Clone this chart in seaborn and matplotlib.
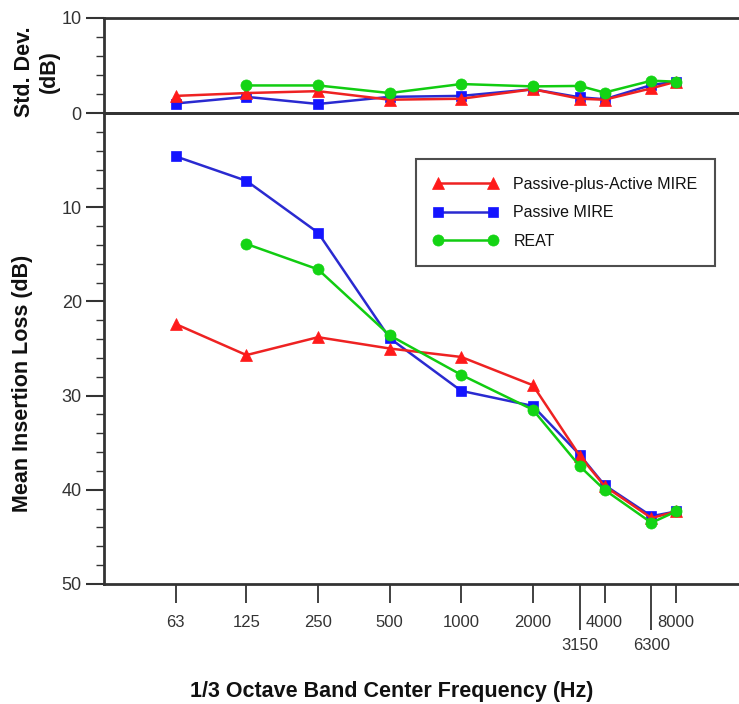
import numpy as np
import pandas as pd
import matplotlib
matplotlib.use("Agg")
import matplotlib.pyplot as plt
import seaborn as sns
from matplotlib.ticker import FixedLocator, FixedFormatter, MultipleLocator, NullLocator

# ---------------- data ----------------
freqs = [63, 125, 250, 500, 1000, 2000, 3150, 4000, 6300, 8000]
major_freqs = [63, 125, 250, 500, 1000, 2000, 4000, 8000]
minor_freqs = [3150, 6300]
series_names = ["Passive-plus-Active MIRE", "Passive MIRE", "REAT"]

pa_mean = [22.4, 25.7, 23.8, 25.0, 25.9, 28.9, 36.4, 39.6, 43.0, 42.3]
p_mean = [4.6, 7.2, 12.7, 23.9, 29.5, 31.1, 36.3, 39.5, 42.8, 42.3]
reat_mean = [np.nan, 13.9, 16.6, 23.6, 27.8, 31.5, 37.5, 40.0, 43.5, 42.3]

pa_sd = [1.8, 2.1, 2.3, 1.4, 1.5, 2.5, 1.5, 1.4, 2.6, 3.3]
p_sd = [1.0, 1.7, 0.95, 1.7, 1.8, 2.5, 1.65, 1.45, 2.95, 3.3]
reat_sd = [np.nan, 2.9, 2.9, 2.1, 3.05, 2.8, 2.85, 2.15, 3.4, 3.3]

rows = []
for name, m, s in zip(series_names, [pa_mean, p_mean, reat_mean], [pa_sd, p_sd, reat_sd]):
    for f, mv, sv in zip(freqs, m, s):
        rows.append({"series": name, "freq": f, "mean": mv, "sd": sv})
df = pd.DataFrame(rows).dropna()

# ---------------- style ----------------
sns.set_style("ticks")
plt.rcParams["font.family"] = ["Liberation Sans", "DejaVu Sans"]
plt.rcParams["axes.edgecolor"] = "#333333"
plt.rcParams["xtick.color"] = "#333333"
plt.rcParams["ytick.color"] = "#333333"
plt.rcParams["text.color"] = "#111111"

styles = {
    "Passive-plus-Active MIRE": dict(color="#ff1a1a", marker="^", ms=8, z=3, lc="#ee2222"),
    "Passive MIRE": dict(color="#1414ff", marker="s", ms=7, z=2, lc="#2a2ad0"),
    "REAT": dict(color="#14d414", marker="o", ms=8, z=4, lc="#11cc11"),
}

W, H = 739, 704
fig = plt.figure(figsize=(W / 100, H / 100), dpi=100)
left = 104 / W
ax_top = fig.add_axes([left, 1 - 113 / H, 1 - left, (113 - 18) / H])
ax = fig.add_axes([left, 1 - 584 / H, 1 - left, (584 - 113) / H])
ax.set_facecolor("none")

for name in series_names:
    st = styles[name]
    sub = df[df.series == name]
    for a, col in ((ax_top, "sd"), (ax, "mean")):
        sns.lineplot(data=sub, x="freq", y=col, ax=a, color=st["lc"], marker=st["marker"],
                     markersize=st["ms"], markerfacecolor=st["color"], markeredgecolor=st["color"],
                     markeredgewidth=0.5, linewidth=1.8, zorder=st["z"],
                     label=name if a is ax else None, legend=False, clip_on=False)

xlim = (31.5, 14700)
for a in (ax_top, ax):
    a.set_xscale("log")
    a.set_xlim(*xlim)
    a.spines["right"].set_visible(False)
    for sp in a.spines.values():
        sp.set_linewidth(2.0)
    a.set_xlabel("")
    a.set_ylabel("")

# top panel
ax_top.set_ylim(0, 10)
ax_top.yaxis.set_major_locator(FixedLocator([0, 10]))
ax_top.yaxis.set_minor_locator(MultipleLocator(2))
ax_top.xaxis.set_major_locator(NullLocator())
ax_top.xaxis.set_minor_locator(NullLocator())
ax_top.tick_params(axis="x", bottom=False, labelbottom=False)
ax_top.tick_params(axis="y", which="major", length=13, width=1.5, labelsize=13, pad=3)
ax_top.tick_params(axis="y", which="minor", length=6, width=1.0)

# bottom panel
ax.set_ylim(50, 0)
ax.yaxis.set_major_locator(FixedLocator([10, 20, 30, 40, 50]))
ax.yaxis.set_minor_locator(FixedLocator([2, 4, 6, 8, 12, 14, 16, 18, 22, 24, 26, 28,
                                         32, 34, 36, 38, 42, 44, 46, 48]))
ax.tick_params(axis="y", which="major", length=13, width=1.5, labelsize=13, pad=3)
ax.tick_params(axis="y", which="minor", length=6, width=1.0)

ax.xaxis.set_major_locator(FixedLocator(major_freqs))
ax.xaxis.set_major_formatter(FixedFormatter([str(f) for f in major_freqs]))
ax.xaxis.set_minor_locator(FixedLocator(minor_freqs))
ax.xaxis.set_minor_formatter(FixedFormatter([str(f) for f in minor_freqs]))
ax.tick_params(axis="x", which="major", length=13.5, width=1.3, labelsize=12, pad=9)
ax.tick_params(axis="x", which="minor", length=33, width=1.3, labelsize=12, pad=6)

# labels
fig.text(37 / W, 1 - 72 / H, "Std. Dev.\n(dB)", rotation=90, ha="center", va="center",
         fontsize=15.5, fontweight="bold", linespacing=1.25, multialignment="center")
fig.text(23 / W, 1 - 383 / H, "Mean Insertion Loss (dB)", rotation=90, ha="center", va="center",
         fontsize=15.5, fontweight="bold")
fig.text(392 / W, 1 - 692 / H, "1/3 Octave Band Center Frequency (Hz)", ha="center", va="center",
         fontsize=15.5, fontweight="bold")

# legend
handles, labels = ax.get_legend_handles_labels()
leg = ax.legend(handles, labels, loc="upper left", numpoints=2,
                bbox_to_anchor=((416 - 104) / 635, 1 - (159 - 113) / 471),
                frameon=True, fancybox=False, edgecolor="#222222", fontsize=11.5,
                handlelength=4.0, handletextpad=1.0, labelspacing=0.85, borderpad=1.1,
                borderaxespad=0)
leg.get_frame().set_linewidth(1.5)

fig.savefig("out.png", dpi=100)
